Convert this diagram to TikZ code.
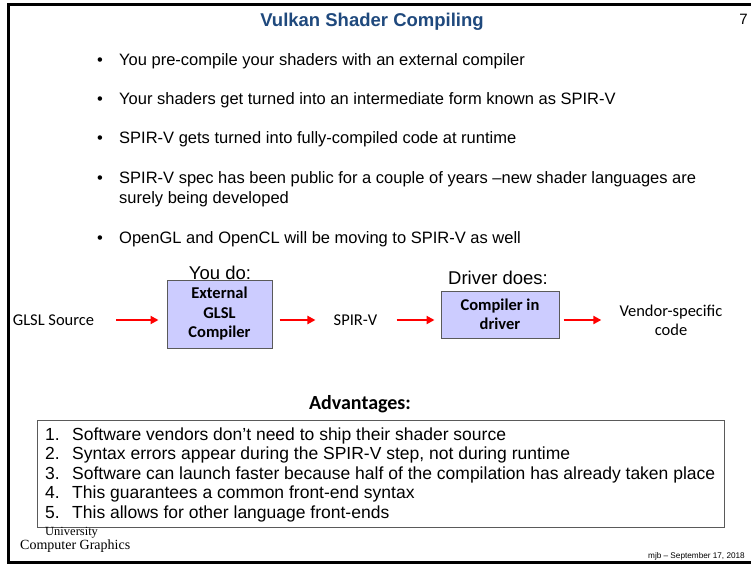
\documentclass[tikz,border=0pt]{standalone}
\usepackage{fontspec}
\setmainfont{Liberation Sans}
\newfontfamily\carl{Carlito}
\newfontfamily\timesf{Liberation Serif}
\usetikzlibrary{arrows.meta}
\newcommand\myfs[2]{\fontsize{#1}{#2}\selectfont}
\definecolor{titleblue}{RGB}{31,73,125}
\definecolor{boxfill}{RGB}{204,204,255}
\definecolor{boxline}{RGB}{90,90,90}
\tikzset{
  redarrow/.style={draw=red, line width=2.5pt, -{Triangle[length=8pt,width=8pt]}},
  bultext/.style={anchor=base west, inner sep=0pt, font=\myfs{16.5}{20}},
  bulletdot/.style={anchor=base, inner sep=0pt, font=\myfs{16.5}{20}},
  advtext/.style={anchor=base west, inner sep=0pt, font=\myfs{17.5}{20}},
  diag/.style={inner sep=0pt, font=\carl\myfs{16.5}{19.5}, align=center},
  procbox/.style={draw=boxline, fill=boxfill, line width=1pt, inner sep=0pt, align=center, font=\carl\bfseries\myfs{16.5}{19.5}},
  headtext/.style={inner sep=0pt, font=\myfs{18.5}{20}}
}
\begin{document}
\begin{tikzpicture}[x=1pt,y=-1pt]
\useasboundingbox (0,0) rectangle (751,565);
\fill[white] (0,0) rectangle (751,565);
% frame
\draw[line width=3pt] (751,4) -- (8,4) -- (8,562) -- (751,562);
% title
\node[anchor=base, inner sep=0pt, font=\bfseries\myfs{18.5}{20}, text=titleblue] (title) at (372,26.5) {Vulkan Shader Compiling};
\node[anchor=base east, inner sep=0pt, font=\myfs{15}{18}] (pagenum) at (748,24) {7};
% bullets
\node[bulletdot] (d1) at (100,65) {•};
\node[bultext] (b1) at (119,65) {You pre-compile your shaders with an external compiler};
\node[bulletdot] (d2) at (100,104) {•};
\node[bultext] (b2) at (119,104) {Your shaders get turned into an intermediate form known as SPIR-V};
\node[bulletdot] (d3) at (100,143.5) {•};
\node[bultext] (b3) at (119,143.5) {SPIR-V gets turned into fully-compiled code at runtime};
\node[bulletdot] (d4) at (100,183.5) {•};
\node[bultext] (b4) at (119,183.5) {SPIR-V spec has been public for a couple of years –new shader languages are};
\node[bultext] (b4b) at (119,203.5) {surely being developed};
\node[bulletdot] (d5) at (100,243.5) {•};
\node[bultext] (b5) at (119,243.5) {OpenGL and OpenCL will be moving to SPIR-V as well};
% diagram
\node[diag] (src) at (53.5,320) {GLSL Source};
\node[procbox, minimum width=105pt, minimum height=68pt] (box1) at (219.5,314) {External\\GLSL\\Compiler};
\node[headtext] (youdo) at (220,273) {You do:};
\node[diag] (spirv) at (355.5,320) {SPIR-V};
\node[procbox, minimum width=118pt, minimum height=47pt] (box2) at (500,314.5) {Compiler in\\driver};
\node[headtext] (driverdoes) at (498,278) {Driver does:};
\node[diag] (vendor) at (671,320.5) {Vendor-specific\\code};
\draw[redarrow, shorten <=22pt, shorten >=8pt] (src) -- (src -| box1.west);
\draw[redarrow, shorten <=7pt, shorten >=18pt] (spirv -| box1.east) -- (spirv);
\draw[redarrow, shorten <=19pt, shorten >=6pt] (spirv) -- (spirv -| box2.west);
\draw[redarrow, shorten <=4pt, shorten >=18pt] (spirv -| box2.east) -- (spirv -| vendor.west);
% advantages
\node[inner sep=0pt, font=\carl\bfseries\myfs{20}{22}] (advhead) at (360,404) {Advantages:};
\node[draw=boxline, line width=1pt, fill=white, minimum width=687pt, minimum height=107pt, inner sep=0pt] (advbox) at (380.5,473.5) {};
\node[advtext] (n1) at (45,440) {1.};
\node[advtext] (a1) at (72,440) {Software vendors don’t need to ship their shader source};
\node[advtext] (n2) at (45,459.5) {2.};
\node[advtext] (a2) at (72,459.5) {Syntax errors appear during the SPIR-V step, not during runtime};
\node[advtext] (n3) at (45,479) {3.};
\node[advtext] (a3) at (72,479) {Software can launch faster because half of the compilation has already taken place};
\node[advtext] (n4) at (45,498.5) {4.};
\node[advtext] (a4) at (72,498.5) {This guarantees a common front-end syntax};
\node[advtext] (n5) at (45,518) {5.};
\node[advtext] (a5) at (72,518) {This allows for other language front-ends};
% footer
\node[anchor=base west, inner sep=0pt, font=\timesf\myfs{12.5}{14}] (univ) at (45,535.5) {University};
\node[anchor=base west, inner sep=0pt, font=\timesf\myfs{14}{16}] (cg) at (20,549.5) {Computer Graphics};
\node[anchor=base east, inner sep=0pt, font=\myfs{8.2}{10}] (mjb) at (745,558) {mjb – September 17, 2018};
\end{tikzpicture}
\end{document}
